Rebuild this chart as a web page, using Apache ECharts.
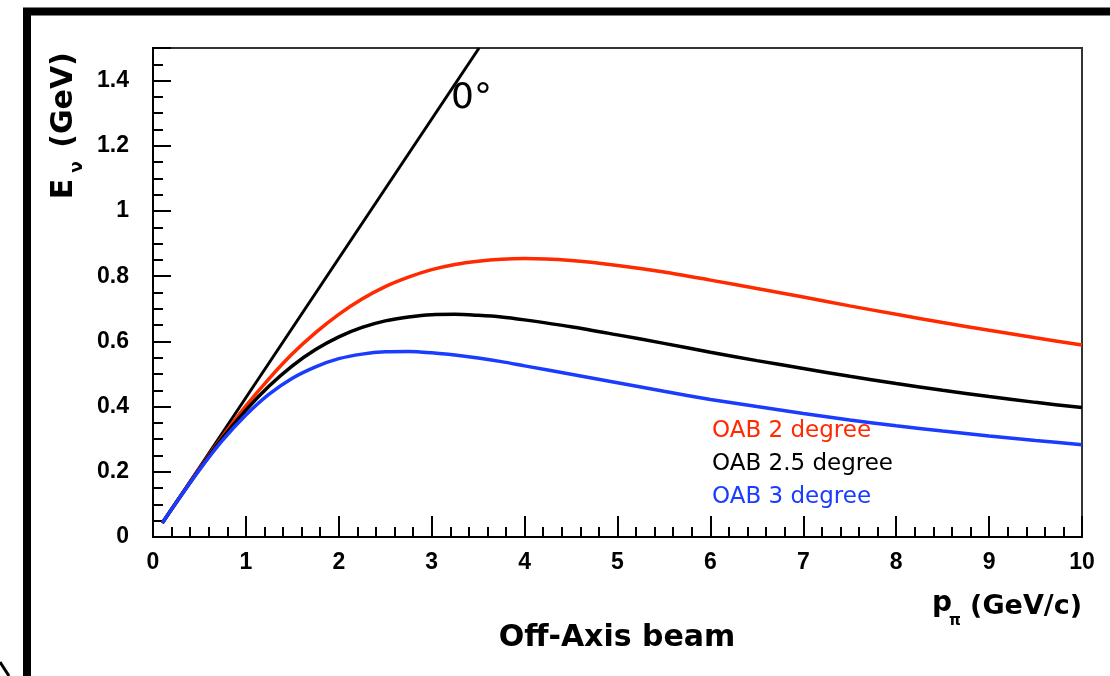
<!DOCTYPE html>
<html>
<head>
<meta charset="utf-8">
<title>Off-Axis beam</title>
<script src="https://cdn.jsdelivr.net/npm/echarts@6/dist/echarts.min.js"></script>
<style>
    html, body { margin: 0; padding: 0; background: #fff; }
    #chart { width: 1110px; height: 676px; }
</style>
</head>
<body>
<div id="chart"></div>
<script>
// pion momentum (GeV/c) sample points
var momentum = [0.1, 0.25, 0.5, 0.75, 1, 1.25, 1.5, 1.75, 2, 2.25, 2.5, 2.75, 3, 3.25, 3.5, 3.75, 4, 4.5, 5, 5.5, 6, 6.5, 7, 7.5, 8, 8.5, 9, 9.5, 10];
// neutrino energy (GeV)
var oab2 = [0.043, 0.106, 0.210, 0.309, 0.402, 0.486, 0.562, 0.627, 0.683, 0.730, 0.768, 0.797, 0.820, 0.836, 0.846, 0.852, 0.854, 0.848, 0.833, 0.813, 0.788, 0.762, 0.736, 0.709, 0.683, 0.658, 0.634, 0.611, 0.589];
var oab25 = [0.043, 0.106, 0.208, 0.304, 0.389, 0.463, 0.525, 0.575, 0.614, 0.643, 0.663, 0.675, 0.682, 0.683, 0.680, 0.675, 0.666, 0.645, 0.620, 0.594, 0.567, 0.541, 0.517, 0.493, 0.471, 0.450, 0.431, 0.413, 0.397];
var oab3 = [0.043, 0.106, 0.206, 0.297, 0.374, 0.438, 0.487, 0.522, 0.547, 0.561, 0.568, 0.569, 0.565, 0.558, 0.549, 0.538, 0.525, 0.499, 0.473, 0.447, 0.422, 0.400, 0.379, 0.359, 0.341, 0.325, 0.310, 0.296, 0.283];
// on-axis line: start and where it leaves the frame
var zeroDegX = [0.1, 3.51];
var zeroDegY = [0.043, 1.5];

var seriesNames = ['OAB 2 degree', 'OAB 2.5 degree', 'OAB 3 degree'];
var seriesColors = ['#ff2a00', '#000000', '#1a3cff'];

function pairs(xs, ys) {
    var out = [];
    for (var i = 0; i < xs.length; i++) {
        out.push([xs[i], ys[i]]);
    }
    return out;
}

var chart = echarts.init(document.getElementById('chart'), null, { renderer: 'canvas' });

var numFont = 'Liberation Sans, Arial, sans-serif';
var titleFont = 'DejaVu Sans, sans-serif';

var option = {
    backgroundColor: '#fff',
    animation: false,
    grid: {
        left: 153,
        top: 48,
        right: 28,
        bottom: 139,
        show: true,
        borderColor: '#333',
        borderWidth: 2
    },
    xAxis: [{
        type: 'value',
        min: 0,
        max: 10,
        interval: 1,
        position: 'bottom',
        axisLine: { show: true, lineStyle: { color: '#000', width: 2 } },
        axisTick: { show: true, inside: true, length: 21, lineStyle: { color: '#000', width: 2 } },
        minorTick: { show: true, splitNumber: 5, length: 10, lineStyle: { color: '#000', width: 2 } },
        axisLabel: { color: '#000', fontSize: 23, fontWeight: 'bold', fontFamily: numFont, margin: 14 },
        splitLine: { show: false }
    }],
    yAxis: [{
        type: 'value',
        min: 0,
        max: 1.5,
        interval: 0.2,
        position: 'left',
        axisLine: { show: true, lineStyle: { color: '#000', width: 2 } },
        axisTick: { show: true, inside: true, length: 18, lineStyle: { color: '#000', width: 2 } },
        axisLabel: {
            color: '#000', fontSize: 23, fontWeight: 'bold', fontFamily: numFont, margin: 24,
            formatter: function (v) { return v > 1.45 ? '' : String(+v.toFixed(1)); }
        },
        splitLine: { show: false }
    }, {
        // short ticks every 0.05
        type: 'value',
        min: 0,
        max: 1.5,
        interval: 0.05,
        position: 'left',
        offset: 0,
        axisLine: { show: false },
        axisTick: { show: true, inside: true, length: 10, lineStyle: { color: '#000', width: 2 } },
        axisLabel: { show: false },
        splitLine: { show: false }
    }],
    series: [{
        name: '0deg',
        type: 'line',
        data: pairs(zeroDegX, zeroDegY),
        showSymbol: false,
        lineStyle: { color: '#000', width: 3 },
        z: 3
    }, {
        name: seriesNames[0],
        type: 'line',
        data: pairs(momentum, oab2),
        smooth: 0.3,
        showSymbol: false,
        lineStyle: { color: seriesColors[0], width: 3.5 }
    }, {
        name: seriesNames[1],
        type: 'line',
        data: pairs(momentum, oab25),
        smooth: 0.3,
        showSymbol: false,
        lineStyle: { color: seriesColors[1], width: 3.5 }
    }, {
        name: seriesNames[2],
        type: 'line',
        data: pairs(momentum, oab3),
        smooth: 0.3,
        showSymbol: false,
        lineStyle: { color: seriesColors[2], width: 3.5 }
    }],
    graphic: [
        // outer slide frame
        { type: 'rect', shape: { x: 27, y: 11.5, width: 1200, height: 800 }, style: { fill: null, stroke: '#000', lineWidth: 8 }, silent: true },
        { type: 'polyline', shape: { points: [[0, 662], [9, 676]] }, style: { stroke: '#000', lineWidth: 3 }, silent: true },
        // y title
        { type: 'text', x: 64, y: 100, rotation: Math.PI / 2, style: { text: '(GeV)', font: 'bold 30px ' + titleFont, fill: '#000', align: 'center', verticalAlign: 'middle' } },
        { type: 'text', x: 78, y: 167, rotation: Math.PI / 2, style: { text: 'ν', font: 'bold 17px ' + titleFont, fill: '#000', align: 'center', verticalAlign: 'middle' } },
        { type: 'text', x: 64, y: 189, rotation: Math.PI / 2, style: { text: 'E', font: 'bold 30px ' + titleFont, fill: '#000', align: 'center', verticalAlign: 'middle' } },
        // x title
        { type: 'text', x: 932, y: 604, style: { text: 'p', font: 'bold 28px ' + titleFont, fill: '#000', align: 'left', verticalAlign: 'middle' } },
        { type: 'text', x: 949, y: 621, style: { text: 'π', font: 'bold 15px ' + titleFont, fill: '#000', align: 'left', verticalAlign: 'middle' } },
        { type: 'text', x: 1082, y: 607, style: { text: '(GeV/c)', font: 'bold 27px ' + titleFont, fill: '#000', align: 'right', verticalAlign: 'middle' } },
        // caption
        { type: 'text', x: 617, y: 638, style: { text: 'Off-Axis beam', font: 'bold 30px ' + titleFont, fill: '#000', align: 'center', verticalAlign: 'middle' } },
        // curve labels
        { type: 'text', x: 712, y: 431, style: { text: seriesNames[0], font: '23px ' + titleFont, fill: seriesColors[0], align: 'left', verticalAlign: 'middle' } },
        { type: 'text', x: 712, y: 464, style: { text: seriesNames[1], font: '23px ' + titleFont, fill: seriesColors[1], align: 'left', verticalAlign: 'middle' } },
        { type: 'text', x: 712, y: 497, style: { text: seriesNames[2], font: '23px ' + titleFont, fill: seriesColors[2], align: 'left', verticalAlign: 'middle' } },
        { type: 'text', x: 451, y: 99, style: { text: '0°', font: '36px ' + titleFont, fill: '#000', align: 'left', verticalAlign: 'middle' } }
    ]
};

chart.setOption(option);
</script>
</body>
</html>
